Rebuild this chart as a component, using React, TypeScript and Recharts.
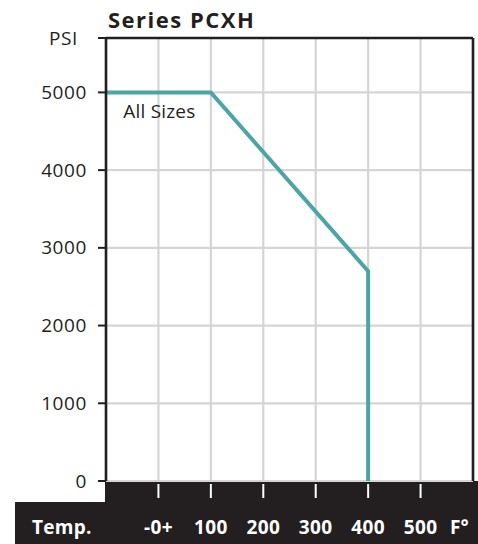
import React from "react"
import {
  ComposedChart,
  Line,
  XAxis,
  YAxis,
  CartesianGrid,
  ReferenceLine,
  ReferenceDot,
} from "recharts"

// temperature (F) vs working pressure (PSI)
const temps = [-100, 100, 400, 400]
const pressures = [5000, 5000, 2700, 0]

const xTicks = [0, 100, 200, 300, 400, 500, 600]
const xTickLabels = ["-0+", "100", "200", "300", "400", "500", "F°"]
const yTicks = [0, 1000, 2000, 3000, 4000, 5000, 5700]
const yTickLabels = ["0", "1000", "2000", "3000", "4000", "5000", "PSI"]

const data = temps.map((t, i) => ({ t, p: pressures[i] }))

const INK = "#231f20"
const TEAL = "#4ba5a4"
const FONT = "'Open Sans', 'Noto Sans', sans-serif"

const XTick = (props: any) => {
  const { x, y, payload } = props
  const idx = xTicks.indexOf(payload.value)
  const label = xTickLabels[idx]
  if (payload.value === 600) {
    return (
      <text x={x - 23} y={y + 46} dy="0.35em" fill="#fff" fontSize={19} fontWeight={700} fontFamily={FONT} textAnchor="start">
        {label}
      </text>
    )
  }
  return (
    <g>
      <line x1={x} x2={x} y1={y + 3} y2={y + 17} stroke="#fff" strokeWidth={2} />
      <text x={x} y={y + 46} dy="0.35em" fill="#fff" fontSize={19} fontWeight={700} fontFamily={FONT} textAnchor="middle" letterSpacing={0.4}>
        {label}
      </text>
    </g>
  )
}

const YTick = (props: any) => {
  const { x, y, payload } = props
  const idx = yTicks.indexOf(payload.value)
  const label = yTickLabels[idx]
  const isTop = payload.value === 5700
  return (
    <g>
      <line x1={x - 8} x2={x} y1={y} y2={y} stroke={INK} strokeWidth={2} />
      <text x={isTop ? x - 28 : x - 19} y={y} dy="0.35em" fill={INK} fontSize={19} fontFamily={FONT} textAnchor="end" letterSpacing={0.6}>
        {label}
      </text>
    </g>
  )
}

export default function App() {
  return (
    <div style={{ position: "absolute", left: 0, top: 0, width: 478, height: 544, background: "#fff" }}>
      <svg width={478} height={544} style={{ position: "absolute", left: 0, top: 0 }}>
        <rect x={105} y={481} width={373} height={63} fill={INK} />
        <rect x={15} y={502} width={463} height={42} fill={INK} />
        <text x={32} y={527} dy="0.35em" fill="#fff" fontSize={19} fontWeight={700} fontFamily={FONT} letterSpacing={0.3}>
          Temp.
        </text>
        <text x={108} y={20} dy="0.35em" fill={INK} fontSize={22} fontWeight={700} fontFamily={FONT} letterSpacing={1.5}>
          Series PCXH
        </text>
      </svg>
      <div style={{ position: "absolute", left: 0, top: 0 }}>
        <ComposedChart
          width={478}
          height={544}
          data={data}
          margin={{ top: 38, right: 5, bottom: 0, left: 0 }}
        >
          <CartesianGrid stroke="#d5d5d5" strokeWidth={2.2} />
          <XAxis
            dataKey="t"
            type="number"
            domain={[-100, 600]}
            ticks={xTicks}
            height={63}
            axisLine={false}
            tickLine={false}
            tickSize={0}
            tickMargin={0}
            tick={<XTick />}
            interval={0}
          />
          <YAxis
            type="number"
            domain={[0, 5700]}
            ticks={yTicks}
            width={106}
            axisLine={{ stroke: INK, strokeWidth: 2.6 }}
            tickLine={false}
            tickSize={0}
            tickMargin={0}
            tick={<YTick />}
            interval={0}
          />
          <ReferenceLine y={5700} stroke={INK} strokeWidth={2.6} />
          <ReferenceLine x={600} stroke={INK} strokeWidth={2.6} />
          <Line
            dataKey="p"
            type="linear"
            stroke={TEAL}
            strokeWidth={4}
            dot={false}
            isAnimationActive={false}
          />
          <ReferenceDot
            x={-67}
            y={4750}
            r={0}
            shape={(p: any) => (
              <text x={p.cx} y={p.cy} dy="0.35em" fill={INK} fontSize={19} fontFamily={FONT} textAnchor="start" letterSpacing={0.2}>
                All Sizes
              </text>
            )}
          />
        </ComposedChart>
      </div>
    </div>
  )
}
